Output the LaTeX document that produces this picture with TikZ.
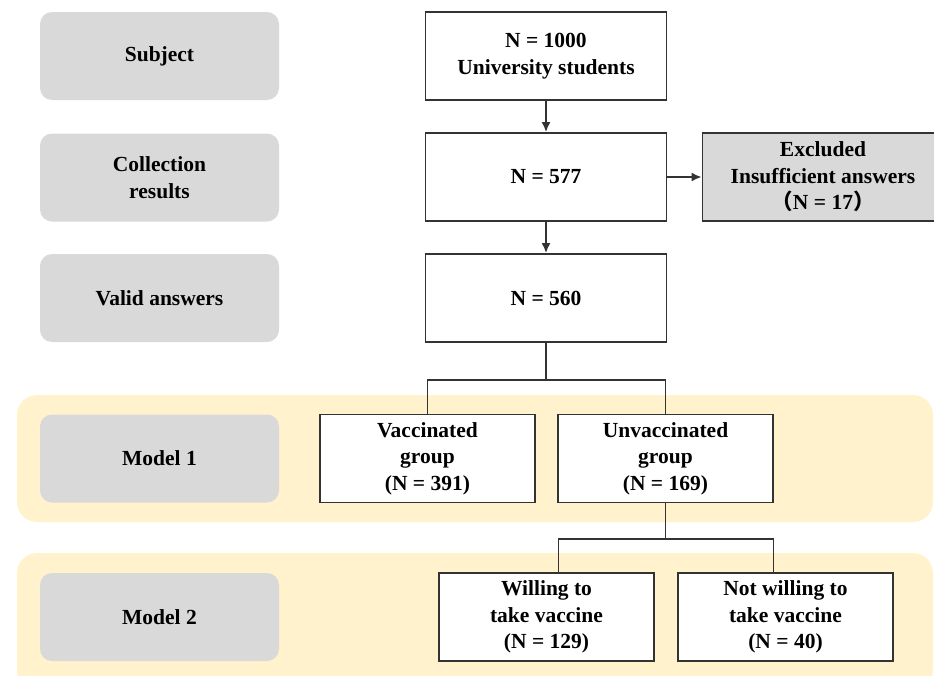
\documentclass[tikz,border=0pt]{standalone}
\usepackage{fontspec}
\setmainfont{Liberation Serif}
\newfontfamily\cjk{Noto Sans CJK SC}
\usetikzlibrary{arrows.meta}
\definecolor{stagegray}{HTML}{D9D9D9}
\definecolor{bandyellow}{HTML}{FFF2CC}
\definecolor{linegray}{HTML}{333333}
\begin{document}
\begin{tikzpicture}[
    x=1pt, y=-1pt,
    every node/.style={font=\bfseries\fontsize{21.5}{26.5}\selectfont, align=center},
    stage/.style={rectangle, rounded corners=12pt, fill=stagegray, minimum width=239pt, minimum height=88pt, inner sep=0pt},
    count/.style={rectangle, draw=linegray, line width=1.8pt, fill=white, minimum width=241pt, minimum height=88pt, inner sep=0pt},
    group/.style={count, minimum width=215pt},
    band/.style={fill=bandyellow, rounded corners=20pt},
    edge/.style={-{Latex[length=10pt,width=9pt]}, line width=1.8pt, draw=linegray},
    branch/.style={line width=1.8pt, draw=linegray}
  ]
  \useasboundingbox (0,0) rectangle (934,675);
  % Bands behind the two models
  \fill[band] (17,395) rectangle (933,522);
  \fill[band] (17,553) rectangle (933,690);

  % Stages on the left
  \node[stage] (subject) at (159.5,56) {Subject};
  \node[stage] (collection) at (159.5,177.5) {Collection\\results};
  \node[stage] (valid) at (159.5,298) {Valid answers};
  \node[stage] (model1) at (159.5,458.5) {Model 1};
  \node[stage] (model2) at (159.5,617) {Model 2};

  % Counts
  \node[count] (n1000) at (546,56) {N = 1000\\University students};
  \node[count] (n577) at (546,177) {N = 577};
  \node[count, fill=stagegray] (excluded) at (823,177) {Excluded\\Insufficient answers\\{\cjk （}N = 17{\cjk ）}};
  \node[count] (n560) at (546,298) {N = 560};

  % Groups
  \node[group] (vacc) at (427.5,458.5) {Vaccinated\\group\\(N = 391)};
  \node[group] (unvacc) at (665.5,458.5) {Unvaccinated\\group\\(N = 169)};
  \node[group] (willing) at (546.5,617) {Willing to\\take vaccine\\(N = 129)};
  \node[group] (notwilling) at (785.5,617) {Not willing to\\take vaccine\\(N = 40)};

  % Flow
  \draw[edge] (n1000) -- (n577);
  \draw[edge] (n577) -- (n560);
  \draw[edge] (n577) -- (excluded);

  % Split into groups
  \coordinate (split1) at (546,380);
  \coordinate (split2) at (665.5,539);
  \draw[branch] (n560) -- (split1);
  \draw[branch] (vacc.north) |- (split1) -| (unvacc.north);
  \draw[branch] (unvacc) -- (split2);
  \draw[branch] ([xshift=12pt]willing.north) |- (split2) -| ([xshift=-12pt]notwilling.north);
\end{tikzpicture}
\end{document}
